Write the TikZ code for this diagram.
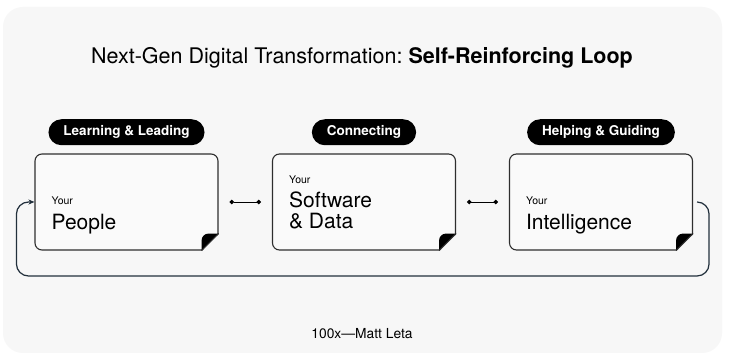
\documentclass[tikz,border=0pt]{standalone}
\usepackage{fontspec}
\setmainfont{TeX Gyre Heros}
\usetikzlibrary{positioning,arrows.meta}
\frenchspacing

\definecolor{panelbg}{HTML}{F7F7F7}
\definecolor{cardbg}{HTML}{FAFAFA}
\definecolor{cardline}{HTML}{2E2E2E}
\definecolor{loopcol}{HTML}{22303C}

\begin{document}
\begin{tikzpicture}[
  x=1pt, y=1pt,
  card/.style={draw=cardline, fill=cardbg, line width=1.1pt, rounded corners=7pt,
    minimum width=183pt, minimum height=96pt, inner sep=0pt},
  pill/.style={fill=black, text=white, rounded corners=13pt, minimum height=26pt,
    inner xsep=15pt, font=\fontsize{13.5}{15}\selectfont\bfseries},
  yourtxt/.style={anchor=base west, inner sep=0pt, font=\fontsize{10.5}{12}\selectfont},
  bigtxt/.style={anchor=base west, inner sep=0pt, font=\fontsize{21}{24}\selectfont},
  link/.style={{Circle[length=4.5pt]}-{Circle[length=4.5pt]}, line width=0.9pt,
    shorten <=11pt, shorten >=11pt},
  loopline/.style={-{Stealth[length=6pt,width=5pt]}, draw=loopcol, line width=1.2pt,
    rounded corners=12pt},
]

% ── Canvas ────────────────────────────────────────────────────────────────────
\useasboundingbox (0,0) rectangle (730,361);
\fill[white] (0,0) rectangle (730,361);
\fill[panelbg, rounded corners=20pt] (3,8) rectangle (722,354);

% ── Title and credit ──────────────────────────────────────────────────────────
\node[font=\fontsize{21.5}{24}\selectfont, anchor=base] (title) at (362,297)
  {Next-Gen Digital Transformation: \textbf{Self-Reinforcing Loop}};
\node[font=\fontsize{13.8}{15}\selectfont, anchor=base] (credit) at (362,22)
  {100x---Matt Leta};

% ── Cards ─────────────────────────────────────────────────────────────────────
\node[card] (people)   at (126.5,159) {};
\node[card] (software) at (364,159)   {};
\node[card] (intel)    at (601,159)   {};

% folded bottom-right corners
\foreach \c in {people,software,intel}{
  \fill[panelbg] ([shift={(-17pt,-1pt)}]\c.south east) -- ([shift={(1pt,-1pt)}]\c.south east)
    -- ([shift={(1pt,17pt)}]\c.south east) -- cycle;
  \fill[black] ([xshift=-17pt]\c.south east) -- ([shift={(-17pt,10pt)}]\c.south east)
    arc[start angle=180, end angle=90, radius=7pt] -- ([yshift=17pt]\c.south east) -- cycle;
  \draw[cardline, line width=1.1pt] ([xshift=-17pt]\c.south east) -- ([yshift=17pt]\c.south east);
}

% ── Pills ─────────────────────────────────────────────────────────────────────
\node[pill, above=8pt of people]   (learn)   {Learning \& Leading};
\node[pill, above=8pt of software] (connect) {Connecting};
\node[pill, above=8pt of intel]    (help)    {Helping \& Guiding};

% ── Card texts ────────────────────────────────────────────────────────────────
\node[bigtxt]  (people-name) at ([shift={(17pt,21pt)}]people.south west) {People};
\node[yourtxt] (people-your) at ([yshift=25pt]people-name.base west) {Your};

\node[bigtxt]  (software-b)    at ([shift={(17pt,22pt)}]software.south west) {\& Data};
\node[bigtxt]  (software-a)    at ([yshift=21pt]software-b.base west) {Software};
\node[yourtxt] (software-your) at ([yshift=24pt]software-a.base west) {Your};

\node[bigtxt]  (intel-name) at ([shift={(17pt,21pt)}]intel.south west) {Intelligence};
\node[yourtxt] (intel-your) at ([yshift=25pt]intel-name.base west) {Your};

% ── Links between cards ───────────────────────────────────────────────────────
\draw[link] (people) -- (software);
\draw[link] (software) -- (intel);

% ── Feedback loop ─────────────────────────────────────────────────────────────
\draw[loopline] ([xshift=4pt]intel.east) -| ([shift={(16pt,-74pt)}]intel.east)
  -| ([xshift=-18pt]people.west) -- (people.west);

\end{tikzpicture}
\end{document}
